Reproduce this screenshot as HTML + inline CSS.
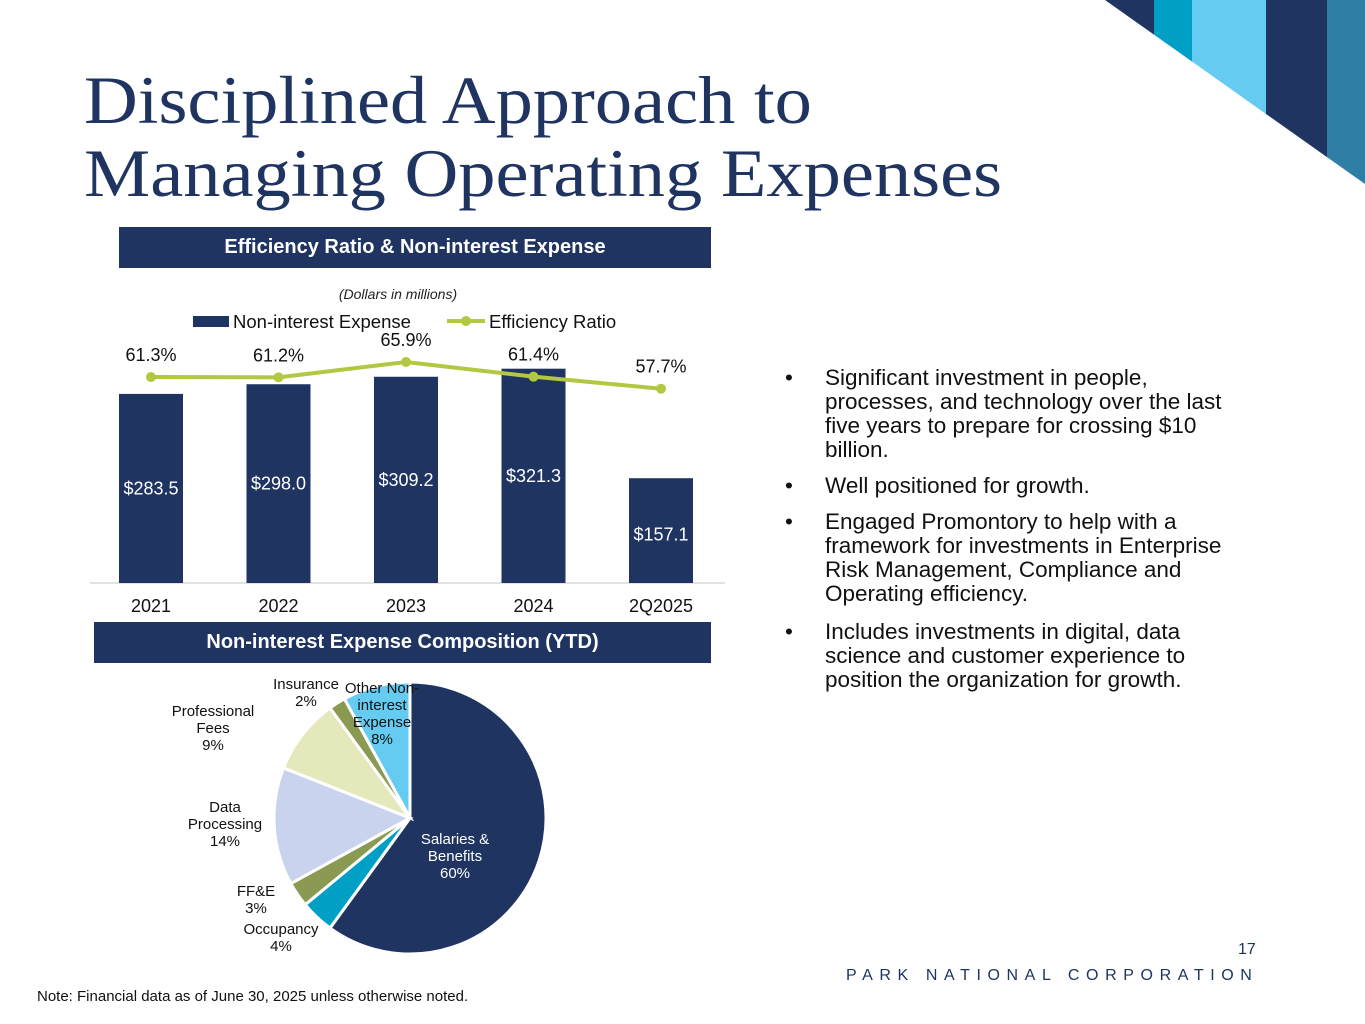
<!DOCTYPE html>
<html><head><meta charset="utf-8">
<style>
body{margin:0;width:1365px;height:1024px;background:#fff;position:relative;overflow:hidden;font-family:"Liberation Sans",sans-serif;}
.abs{position:absolute;}
h1{position:absolute;left:84px;top:64px;margin:0;font-family:"Liberation Serif",serif;font-weight:normal;color:#1f3461;font-size:68px;line-height:73px;transform:scaleX(1.095);transform-origin:0 0;white-space:nowrap;}
.band{position:absolute;background:#1f3461;color:#fff;font-weight:bold;font-size:20px;text-align:center;}
.bul{position:absolute;left:785px;font-size:22.5px;line-height:24px;color:#111;width:460px;}
.bul span{position:absolute;left:0;}
.bul div{margin-left:40px;}
</style></head><body>
<svg class="abs" style="left:0;top:0" width="1365" height="200">
<defs><clipPath id="cc"><polygon points="1105,0 1365,0 1365,184"/></clipPath></defs>
<g clip-path="url(#cc)">
<rect x="1100" y="0" width="54" height="200" fill="#1f3461"/>
<rect x="1154" y="0" width="38" height="200" fill="#00a0c6"/>
<rect x="1192" y="0" width="74" height="200" fill="#66cbf0"/>
<rect x="1266" y="0" width="61" height="200" fill="#1f3461"/>
<rect x="1327" y="0" width="38" height="200" fill="#2f7ea6"/>
</g></svg>
<h1>Disciplined Approach to<br>Managing Operating Expenses</h1>
<div class="band" style="left:119px;top:227px;width:592px;height:41px;line-height:41px">Efficiency Ratio &amp; Non-interest Expense</div>
<div class="band" style="left:94px;top:622px;width:617px;height:41px;line-height:41px">Non-interest Expense Composition (YTD)</div>
<svg id="bar" class="abs" style="left:0;top:0" width="780" height="620">
<text x="398" y="299" font-size="14" font-style="italic" text-anchor="middle" fill="#222">(Dollars in millions)</text>
<g>
<rect x="193" y="316" width="36" height="11" fill="#1f3461"/>
<text x="233" y="328" font-size="18.5" fill="#111">Non-interest Expense</text>
<line x1="447" y1="321" x2="485" y2="321" stroke="#b4c740" stroke-width="4"/>
<circle cx="466" cy="321" r="5" fill="#b4c740"/>
<text x="489" y="328" font-size="18.5" fill="#111">Efficiency Ratio</text>
</g>
<line x1="90" y1="583" x2="725" y2="583" stroke="#d9d9d9" stroke-width="1.5"/>
</svg>
<script>
const categories=["2021","2022","2023","2024","2Q2025"];
const expense=[283.5,298.0,309.2,321.3,157.1];
const ratio=[61.3,61.2,65.9,61.4,57.7];
const ratioLabels=["61.3%","61.2%","65.9%","61.4%","57.7%"];
const expenseLabels=["$283.5","$298.0","$309.2","$321.3","$157.1"];
const NS="http://www.w3.org/2000/svg";
const svg=document.getElementById('bar');
const xC=i=>151+i*127.5;
const yE=v=>583-v*0.667;
const yR=v=>377-(v-61.3)*3.26;
function mk(t,a){const e=document.createElementNS(NS,t);for(const k in a)e.setAttribute(k,a[k]);svg.appendChild(e);return e;}
categories.forEach((c,i)=>{
 const r=mk('rect',{x:xC(i)-32,y:yE(expense[i]),width:64,height:583-yE(expense[i]),fill:'#1f3461'});
 
 
 const t=mk('text',{x:xC(i),y:(yE(expense[i])+583)/2+6+(i==4?4:0),'font-size':18,fill:'#fff','text-anchor':'middle'});
 t.textContent=expenseLabels[i];
 
 
 const x=mk('text',{x:xC(i),y:612,'font-size':18,fill:'#111','text-anchor':'middle'});
 x.textContent=c;
 
 
});
const pl=mk('polyline',{points:ratio.map((v,i)=>xC(i)+','+yR(v)).join(' '),fill:'none',stroke:'#b4c740','stroke-width':4});


ratio.forEach((v,i)=>{
 const c=mk('circle',{cx:xC(i),cy:yR(v),r:5,fill:'#b4c740'});
 
 
 const t=mk('text',{x:xC(i),y:yR(v)-16,'font-size':18,fill:'#111','text-anchor':'middle'});
 t.textContent=ratioLabels[i];
 
 
});
</script>
<svg id="pie" class="abs" style="left:0;top:660px" width="700" height="320"></svg>
<script>
const sliceNames=["Salaries & Benefits","Occupancy","FF&E","Data Processing","Professional Fees","Insurance","Other Non-interest Expense"];
const sliceValues=[60,4,3,14,9,2,8];
const sliceColors=["#1f3461","#00a0c6","#8a9a52","#c9d3ee","#e5e8bb","#8a9a52","#66cbf0"];
(function(){
const p=document.getElementById('pie');
const cx=410,cy=158,R=136;
let a=0;const tot=sliceValues.reduce((s,v)=>s+v,0);
sliceValues.forEach((v,i)=>{
 const a0=a/tot*2*Math.PI,a1=(a+v)/tot*2*Math.PI;a+=v;
 const x0=cx+R*Math.sin(a0),y0=cy-R*Math.cos(a0),x1=cx+R*Math.sin(a1),y1=cy-R*Math.cos(a1);
 const e=document.createElementNS(NS,'path');
 e.setAttribute('d',`M${cx},${cy}L${x0},${y0}A${R},${R} 0 ${(a1-a0)>Math.PI?1:0} 1 ${x1},${y1}Z`);
 e.setAttribute('fill',sliceColors[i]);e.setAttribute('stroke','#fff');e.setAttribute('stroke-width','3');
 
 
 p.appendChild(e);
});
const labels=[[455,184,["Salaries &","Benefits","60%"],"#fff"],[281,274,["Occupancy","4%"],"#111"],[256,236,["FF&E","3%"],"#111"],[225,152,["Data","Processing","14%"],"#111"],[213,56,["Professional","Fees","9%"],"#111"],[306,29,["Insurance","2%"],"#111"],[382,33,["Other Non-","interest","Expense","8%"],"#111"]];
labels.forEach((l,i)=>{
 const t=document.createElementNS(NS,'text');
 t.setAttribute('x',l[0]);t.setAttribute('y',l[1]);t.setAttribute('font-size','15');t.setAttribute('fill',l[3]);t.setAttribute('text-anchor','middle');
 
 
 l[2].forEach((s,j)=>{const ts=document.createElementNS(NS,'tspan');ts.setAttribute('x',l[0]);ts.setAttribute('dy',j?17:0);ts.textContent=s;t.appendChild(ts);});
 p.appendChild(t);
});
})();
</script>
<div class="bul" style="top:366px"><span>•</span><div>Significant investment in people, processes, and technology over the last five years to prepare for crossing $10 billion.</div></div>
<div class="bul" style="top:474px"><span>•</span><div>Well positioned for growth.</div></div>
<div class="bul" style="top:510px"><span>•</span><div>Engaged Promontory to help with a framework for investments in Enterprise Risk Management, Compliance and Operating efficiency.</div></div>
<div class="bul" style="top:620px"><span>•</span><div>Includes investments in digital, data science and customer experience to position the organization for growth.</div></div>
<div class="abs" style="left:1238px;top:941px;font-size:16px;color:#1f3461">17</div>
<div class="abs" style="left:846px;top:967px;font-size:16px;letter-spacing:6.6px;color:#1f3461;white-space:nowrap">PARK NATIONAL CORPORATION</div>
<div class="abs" style="left:37px;top:988px;font-size:15px;color:#111;white-space:nowrap">Note: Financial data as of June 30, 2025 unless otherwise noted.</div>
</body></html>
